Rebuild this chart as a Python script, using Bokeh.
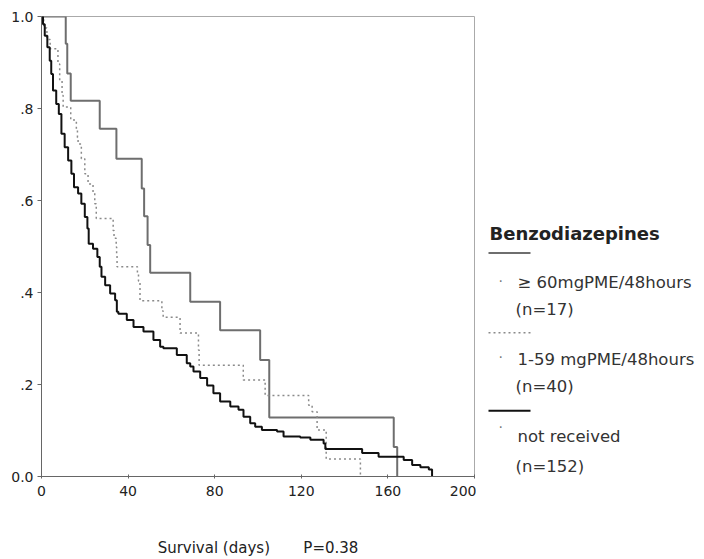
from bokeh.plotting import figure
from bokeh.layouts import row
from bokeh.models import Range1d, FixedTicker
from bokeh.core.properties import value
from bokeh.embed import file_html
from bokeh.resources import INLINE

# ---- data (Kaplan-Meier step curves) ----
days_high = [0, 11.2, 11.9, 13.5, 26.9, 34.6, 46.3, 47.4, 49.0, 50.2, 68.7, 82.5,
             101.0, 105.2, 162.7, 164.3]
surv_high = [1.0, 0.941, 0.876, 0.817, 0.756, 0.691, 0.626, 0.566, 0.503, 0.443,
             0.380, 0.318, 0.253, 0.128, 0.064, 0.0]

days_mid = [0, 1.0, 2.5, 4.0, 7.6, 8.4, 9.5, 10.0, 13.5, 16.1, 16.6, 16.9, 18.4,
            20.0, 21.5, 23.8, 24.6, 25.3, 33.1, 33.5, 34.5, 34.7, 34.9, 44.3, 44.8,
            45.5, 55.6, 56.2, 64.0, 72.5, 72.8, 93.2, 103.3, 123.4, 125.0, 127.3,
            131.5, 147.3]
surv_mid = [1.0, 0.975, 0.95, 0.93, 0.897, 0.86, 0.828, 0.803, 0.775, 0.756, 0.737,
            0.723, 0.691, 0.658, 0.636, 0.618, 0.593, 0.561, 0.535, 0.518, 0.499,
            0.481, 0.456, 0.44, 0.425, 0.382, 0.36, 0.346, 0.312, 0.275, 0.242,
            0.21, 0.176, 0.155, 0.141, 0.101, 0.038, 0.0]

days_none = [0, 0.7, 1.5, 2.7, 3.8, 4.5, 5.3, 6.8, 8.0, 9.2, 10.7, 12.3, 13.8, 15.0,
             16.9, 18.4, 20.0, 21.2, 21.8, 23.8, 25.8, 26.9, 27.7, 29.4, 31.7, 34.0,
             34.8, 35.5, 39.4, 42.5, 47.1, 51.7, 54.8, 56.3, 62.5, 67.1, 68.7, 70.2,
             73.3, 76.5, 79.4, 82.5, 87.2, 91.0, 93.3, 96.4, 98.7, 101.8, 108.8,
             111.8, 119.5, 124.2, 130.3, 131.1, 148.1, 155.7, 167.3, 171.2, 175.0,
             178.9, 180.4]
surv_none = [1.0, 0.983, 0.958, 0.933, 0.904, 0.875, 0.839, 0.810, 0.788, 0.745,
             0.716, 0.687, 0.658, 0.629, 0.615, 0.593, 0.564, 0.539, 0.506, 0.495,
             0.477, 0.456, 0.434, 0.416, 0.398, 0.383, 0.358, 0.354, 0.340, 0.325,
             0.315, 0.297, 0.282, 0.279, 0.264, 0.246, 0.239, 0.228, 0.214, 0.198,
             0.181, 0.163, 0.152, 0.145, 0.130, 0.116, 0.108, 0.101, 0.098, 0.087,
             0.085, 0.080, 0.072, 0.060, 0.051, 0.043, 0.036, 0.025, 0.020, 0.015,
             0.0]

x_ticks = [0, 40, 80, 120, 160, 200]
y_ticks = [0, 0.2, 0.4, 0.6, 0.8, 1.0]
y_tick_labels = ["0.0", ".2", ".4", ".6", ".8", "1.0"]

legend_title = "Benzodiazepines"
legend_labels = ["\u2265 60mgPME/48hours", "1-59 mgPME/48hours", "not received"]
legend_counts = ["(n=17)", "(n=40)", "(n=152)"]
x_label = "Survival (days)" + "\u00a0" * 7 + "P=0.38"

FONT = "DejaVu Sans"

p = figure(width=476, height=559, output_backend="svg", toolbar_location=None,
           x_range=Range1d(0, 200), y_range=Range1d(0, 1.0),
           min_border_left=41, min_border_right=2, min_border_top=16,
           min_border_bottom=82)
p.grid.visible = False
p.outline_line_color = "#aaaaaa"
p.outline_line_width = 1

p.step(days_high, surv_high, mode="after", line_color="#6e6e6e", line_width=2)
p.step(days_mid, surv_mid, mode="after", line_color="#8a8a8a", line_width=1.5,
       line_dash="2 3")
p.step(days_none, surv_none, mode="after", line_color="#111111", line_width=2)

p.xaxis.ticker = FixedTicker(ticks=x_ticks)
p.yaxis.ticker = FixedTicker(ticks=y_ticks)
p.yaxis.major_label_overrides = {t: l for t, l in zip(y_ticks, y_tick_labels)}
for ax in (p.xaxis[0], p.yaxis[0]):
    ax.axis_line_color = "#666666"
    ax.major_tick_line_color = "#666666"
    ax.minor_tick_line_color = None
    ax.major_label_text_font = FONT
    ax.major_label_text_font_size = "14px"
    ax.major_label_text_color = "#222222"
p.yaxis.major_tick_out = 4
p.yaxis.major_tick_in = 0
p.yaxis.major_label_standoff = 4
p.xaxis.major_tick_out = 2
p.xaxis.major_tick_in = 2
p.xaxis.major_label_standoff = 7
p.xaxis.axis_label = x_label
p.xaxis.axis_label_text_font = FONT
p.xaxis.axis_label_text_font_size = "15px"
p.xaxis.axis_label_text_font_style = "normal"
p.xaxis.axis_label_text_color = "#222222"
p.xaxis.axis_label_standoff = 40

# ---- legend panel (its frame is aligned with the plot frame: page y 16..477) ----
lg = figure(width=228, height=559, output_backend="svg", toolbar_location=None,
            x_range=Range1d(0, 228), y_range=Range1d(477, 16),
            x_axis_location=None, y_axis_location=None,
            min_border_left=0, min_border_right=0, min_border_top=16,
            min_border_bottom=82)
lg.grid.visible = False
lg.outline_line_color = None

lg.text(x=[13], y=[233], text=[legend_title], text_font=value(FONT),
        text_font_size="18px", text_font_style="bold", text_color="#222222",
        text_baseline="middle", text_align="left")

line_y = [253, 333, 411]
styles = [dict(line_color="#6e6e6e", line_width=2),
          dict(line_color="#8a8a8a", line_width=1.5, line_dash="2 3"),
          dict(line_color="#111111", line_width=2)]
label_y = [283, 360, 437]
count_y = [310, 387, 467]
bullet_y = [281, 357, 427]
label_x = [41, 41, 41]
for ly, st in zip(line_y, styles):
    lg.line([12, 54], [ly, ly], **st)
lg.text(x=label_x, y=label_y, text=legend_labels, text_font=value(FONT),
        text_font_size="16.5px", text_color="#333333", text_baseline="middle")
lg.text(x=[39, 39, 39], y=count_y, text=legend_counts, text_font=value(FONT),
        text_font_size="16.5px", text_color="#333333", text_baseline="middle")
lg.text(x=[22, 22, 22], y=bullet_y, text=["\u00b7"] * 3, text_font=value(FONT),
        text_font_size="14px", text_color="#777777", text_baseline="middle")

layout = row(p, lg)
open("out.html", "w").write(file_html(layout, INLINE))
